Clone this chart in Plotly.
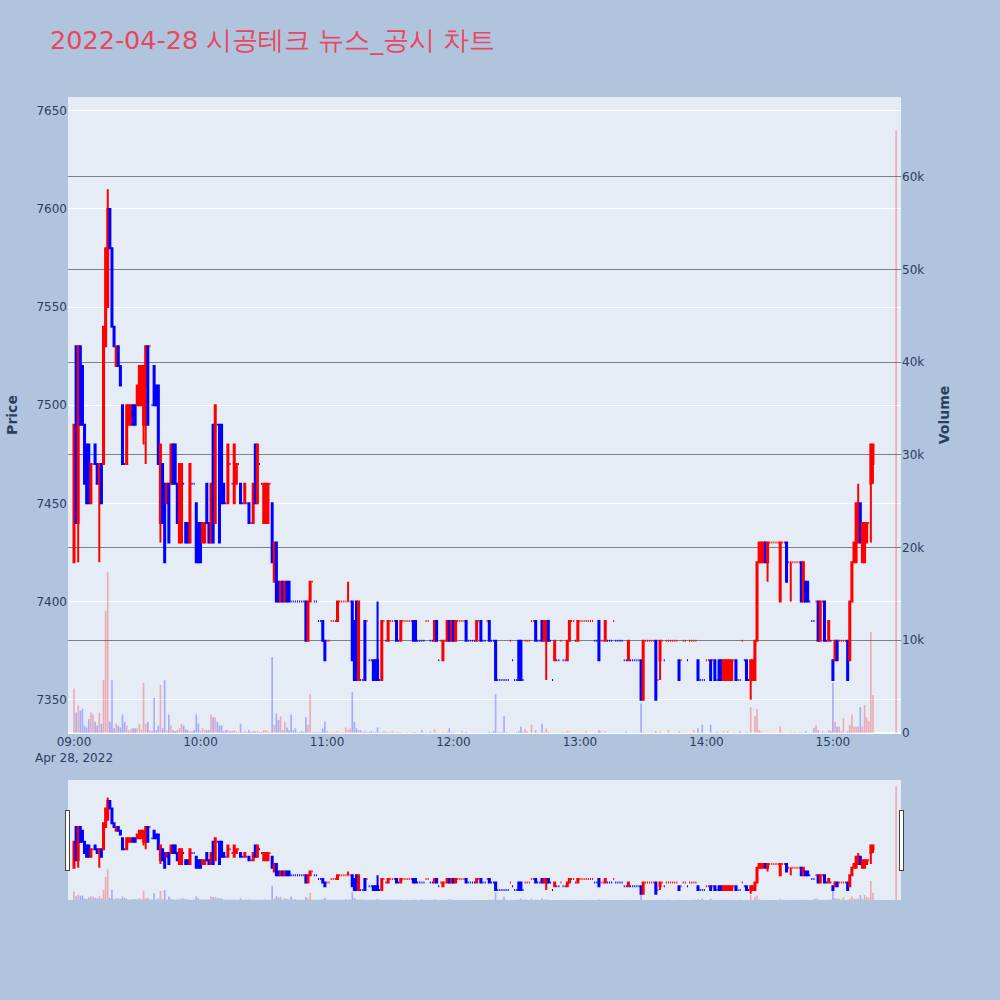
import pandas as pd
import plotly.graph_objects as go
from plotly.subplots import make_subplots

title_text = "2022-04-28 시공테크 뉴스_공시 차트"
session_start = "2022-04-28 09:00"
auction_time = "2022-04-28 15:30"
auction_volume = 65000

opens = [7420,7530,7440,7530,7520,7490,7480,7480,7450,7470,7480,7470,7460,7470,7470,7530,7550,7600,7580,7540,
7520,7530,7520,7500,7470,7470,7490,7490,7500,7500,7500,7500,7500,7490,7510,7530,7530,7500,7520,7510,
7510,7440,7470,7460,7450,7460,7460,7480,7480,7460,7430,7430,7460,7440,7440,7430,7460,7460,7450,7440,
7440,7430,7430,7460,7440,7430,7490,7440,7490,7490,7490,7460,7450,7450,7470,7460,7450,7460,7470,7460,
7450,7450,7450,7450,7440,7440,7480,7450,7470,7460,7440,7440,7440,7460,7450,7410,7430,7410,7400,7410,
7400,7410,7410,7400,7400,7400,7400,7400,7400,7400,7400,7380,7400,7410,7400,7400,7390,7390,7390,7380,
7380,7380,7390,7390,7390,7390,7400,7400,7400,7400,7400,7400,7400,7390,7400,7360,7360,7360,7390,7390,
7370,7370,7370,7370,7370,7360,7360,7390,7380,7380,7390,7390,7390,7390,7380,7380,7390,7390,7390,7390,
7390,7390,7390,7380,7380,7380,7380,7390,7390,7380,7380,7380,7390,7370,7380,7370,7380,7380,7390,7380,
7390,7380,7390,7390,7390,7390,7390,7380,7380,7380,7380,7380,7390,7390,7380,7380,7390,7390,7380,7380,
7380,7360,7360,7360,7360,7360,7360,7380,7370,7360,7360,7380,7380,7360,7380,7380,7380,7390,7390,7390,
7380,7380,7390,7380,7380,7390,7380,7360,7370,7370,7370,7380,7370,7370,7370,7380,7390,7390,7380,7380,
7390,7390,7390,7390,7390,7390,7390,7380,7380,7390,7380,7380,7380,7380,7380,7380,7390,7380,7380,7380,
7380,7370,7370,7370,7370,7370,7370,7370,7370,7370,7350,7380,7380,7380,7380,7380,7380,7360,7370,7380,
7370,7380,7380,7380,7380,7380,7380,7370,7370,7380,7380,7370,7380,7380,7380,7380,7370,7360,7360,7360,
7370,7370,7370,7370,7370,7360,7370,7370,7360,7360,7360,7360,7360,7370,7370,7360,7360,7380,7370,7370,
7360,7360,7360,7360,7380,7420,7420,7420,7430,7420,7430,7430,7430,7430,7430,7400,7430,7430,7430,7420,
7420,7420,7420,7420,7420,7420,7400,7410,7410,7400,7390,7390,7400,7400,7380,7400,7400,7380,7380,7380,
7370,7370,7380,7380,7380,7380,7380,7380,7370,7400,7420,7420,7430,7450,7420,7420,7430,7440,7460,7470]

highs = [7490,7530,7530,7530,7520,7490,7480,7480,7470,7470,7480,7470,7470,7470,7540,7580,7610,7600,7580,7540,
7530,7530,7520,7500,7470,7500,7500,7500,7500,7500,7510,7520,7520,7520,7530,7530,7530,7500,7520,7510,
7510,7480,7470,7460,7460,7460,7480,7480,7480,7460,7470,7470,7460,7440,7440,7470,7460,7460,7450,7440,
7440,7440,7440,7460,7440,7460,7490,7500,7490,7490,7490,7460,7450,7480,7470,7460,7480,7470,7470,7460,
7450,7460,7450,7450,7440,7460,7480,7480,7470,7460,7460,7460,7460,7460,7450,7430,7430,7410,7410,7410,
7410,7410,7410,7400,7400,7400,7400,7400,7400,7400,7400,7400,7410,7410,7400,7400,7390,7390,7390,7380,
7380,7380,7390,7390,7390,7400,7400,7400,7400,7400,7410,7400,7400,7390,7400,7400,7360,7360,7390,7390,
7370,7370,7370,7370,7400,7360,7390,7390,7380,7390,7390,7390,7390,7390,7380,7390,7390,7390,7390,7390,
7390,7390,7390,7380,7380,7380,7380,7390,7390,7380,7380,7390,7390,7370,7380,7380,7380,7390,7390,7390,
7390,7390,7390,7390,7390,7390,7390,7380,7380,7380,7380,7390,7390,7390,7380,7380,7390,7390,7380,7380,
7380,7360,7360,7360,7360,7360,7360,7380,7370,7360,7360,7380,7380,7360,7380,7380,7380,7390,7390,7390,
7380,7380,7390,7390,7390,7390,7380,7360,7380,7370,7370,7380,7370,7370,7380,7390,7390,7390,7380,7390,
7390,7390,7390,7390,7390,7390,7390,7380,7380,7390,7380,7380,7390,7380,7380,7380,7390,7380,7380,7380,
7380,7370,7370,7380,7370,7370,7370,7370,7370,7370,7380,7380,7380,7380,7380,7380,7380,7360,7380,7380,
7370,7380,7380,7380,7380,7380,7380,7370,7370,7380,7380,7370,7380,7380,7380,7380,7370,7360,7360,7360,
7370,7370,7370,7370,7370,7360,7370,7370,7370,7370,7370,7370,7370,7370,7370,7360,7360,7380,7370,7370,
7360,7370,7370,7380,7420,7430,7430,7430,7430,7430,7430,7430,7430,7430,7430,7430,7430,7430,7430,7420,
7420,7420,7420,7420,7420,7420,7420,7410,7410,7400,7390,7390,7400,7400,7400,7400,7400,7380,7390,7380,
7370,7380,7380,7380,7380,7380,7380,7380,7400,7420,7430,7450,7460,7450,7440,7440,7440,7440,7480,7480]

lows = [7420,7440,7420,7490,7490,7460,7450,7450,7450,7470,7470,7460,7420,7450,7470,7530,7550,7580,7540,7530,
7520,7520,7510,7470,7470,7470,7490,7490,7490,7490,7500,7500,7500,7480,7470,7490,7530,7500,7500,7500,
7470,7430,7440,7420,7450,7430,7460,7460,7460,7440,7430,7430,7460,7430,7430,7430,7460,7460,7420,7420,
7420,7430,7430,7440,7430,7430,7430,7440,7490,7430,7450,7450,7450,7450,7470,7460,7450,7460,7470,7450,
7450,7450,7450,7440,7440,7440,7450,7450,7470,7460,7440,7440,7440,7460,7420,7410,7400,7400,7400,7400,
7400,7400,7400,7400,7400,7400,7400,7400,7400,7400,7380,7380,7400,7410,7400,7400,7390,7390,7380,7370,
7380,7380,7390,7390,7390,7390,7400,7400,7400,7400,7400,7400,7370,7360,7360,7360,7360,7360,7360,7390,
7370,7370,7360,7360,7360,7360,7360,7390,7380,7380,7390,7390,7390,7380,7380,7380,7390,7390,7390,7390,
7390,7380,7380,7380,7380,7380,7380,7390,7390,7380,7380,7380,7380,7370,7380,7370,7380,7380,7380,7380,
7380,7380,7390,7390,7390,7390,7380,7380,7380,7380,7380,7380,7390,7380,7380,7380,7390,7380,7380,7380,
7360,7360,7360,7360,7360,7360,7360,7380,7370,7360,7360,7360,7360,7360,7380,7380,7380,7390,7390,7380,
7380,7380,7380,7380,7360,7380,7380,7360,7370,7370,7370,7380,7370,7370,7370,7380,7390,7390,7380,7380,
7390,7390,7390,7390,7390,7390,7390,7380,7380,7370,7380,7380,7380,7380,7380,7380,7390,7380,7380,7380,
7380,7370,7370,7370,7370,7370,7370,7370,7370,7350,7350,7380,7380,7380,7380,7380,7350,7360,7360,7380,
7370,7380,7380,7380,7380,7380,7380,7360,7370,7380,7380,7370,7380,7380,7380,7380,7360,7360,7360,7360,
7370,7370,7360,7370,7360,7360,7360,7360,7360,7360,7360,7360,7360,7370,7360,7360,7360,7380,7370,7360,
7360,7350,7360,7360,7380,7420,7420,7420,7420,7410,7430,7430,7430,7430,7430,7400,7430,7430,7410,7420,
7400,7420,7420,7420,7420,7400,7400,7400,7400,7400,7390,7390,7400,7380,7380,7400,7380,7380,7380,7380,
7360,7370,7370,7380,7380,7380,7380,7360,7370,7400,7420,7420,7430,7430,7420,7420,7430,7440,7430,7460]

closes = [7490,7440,7530,7490,7490,7460,7450,7450,7470,7470,7470,7460,7470,7450,7540,7580,7600,7580,7540,7530,
7530,7520,7510,7470,7470,7500,7500,7500,7490,7490,7510,7520,7520,7520,7530,7490,7530,7500,7500,7500,
7470,7480,7440,7420,7460,7430,7480,7460,7460,7440,7470,7470,7460,7430,7430,7470,7460,7460,7420,7420,
7420,7440,7440,7440,7430,7460,7430,7500,7490,7430,7450,7450,7450,7480,7470,7460,7480,7470,7470,7450,
7450,7460,7450,7440,7440,7460,7450,7480,7470,7460,7460,7460,7460,7460,7420,7430,7400,7400,7410,7400,
7410,7400,7400,7400,7400,7400,7400,7400,7400,7400,7380,7400,7410,7410,7400,7400,7390,7390,7380,7370,
7380,7380,7390,7390,7390,7400,7400,7400,7400,7400,7400,7400,7370,7360,7360,7400,7360,7360,7360,7390,
7370,7370,7360,7360,7360,7360,7390,7390,7380,7390,7390,7390,7390,7380,7380,7390,7390,7390,7390,7390,
7390,7380,7380,7380,7380,7380,7380,7390,7390,7380,7380,7390,7380,7370,7380,7380,7380,7390,7380,7390,
7380,7390,7390,7390,7390,7390,7380,7380,7380,7380,7380,7390,7390,7380,7380,7380,7390,7380,7380,7380,
7360,7360,7360,7360,7360,7360,7360,7380,7370,7360,7360,7360,7360,7360,7380,7380,7380,7390,7390,7380,
7380,7380,7380,7390,7390,7380,7380,7360,7380,7370,7370,7380,7370,7370,7380,7390,7390,7390,7380,7390,
7390,7390,7390,7390,7390,7390,7390,7380,7380,7370,7380,7380,7390,7380,7380,7380,7390,7380,7380,7380,
7380,7370,7370,7380,7370,7370,7370,7370,7370,7350,7380,7380,7380,7380,7380,7380,7350,7360,7380,7380,
7370,7380,7380,7380,7380,7380,7380,7360,7370,7380,7380,7370,7380,7380,7380,7380,7360,7360,7360,7360,
7370,7370,7360,7370,7360,7360,7360,7360,7370,7370,7370,7370,7370,7370,7360,7360,7360,7380,7370,7360,
7360,7370,7370,7380,7420,7430,7430,7430,7420,7430,7430,7430,7430,7430,7430,7430,7430,7430,7410,7420,
7420,7420,7420,7420,7420,7400,7420,7400,7400,7400,7390,7390,7400,7380,7400,7400,7380,7380,7390,7380,
7360,7380,7370,7380,7380,7380,7380,7360,7400,7420,7430,7450,7450,7430,7440,7440,7440,7440,7480,7480]

volumes = [4800,2200,3000,2400,2600,800,600,1500,2200,2000,1200,800,2200,1000,5700,13200,17400,1200,5700,500,
1000,800,600,2000,1200,800,300,400,500,500,500,1000,400,5400,1000,1200,300,200,3800,300,
800,5200,500,5700,300,2000,800,300,200,300,500,1000,800,400,300,200,200,300,2000,1000,
200,500,300,300,300,2000,1700,1700,1200,800,800,200,300,300,200,200,300,200,100,1000,
100,200,100,300,100,200,200,200,100,100,300,300,200,100,8200,900,2100,1400,1800,300,
1200,600,300,2000,300,500,100,100,200,100,1700,900,4200,100,100,100,100,100,500,1200,
200,100,100,100,100,200,100,100,100,600,300,500,4400,1200,500,300,300,100,200,100,
100,200,100,100,600,100,100,200,100,100,100,200,100,100,100,100,50,50,100,50,
50,100,100,50,50,300,50,100,50,150,50,400,100,50,50,100,50,100,500,100,
100,50,50,50,200,50,100,50,50,50,50,50,50,50,50,50,50,150,50,200,
4200,100,100,100,1800,100,50,50,50,50,100,200,700,100,400,200,50,900,50,300,
50,50,1000,100,500,100,50,50,50,50,50,50,100,50,200,200,50,50,50,50,
50,50,50,200,50,50,50,50,50,300,200,50,200,50,50,50,50,50,50,50,
50,50,150,50,50,50,50,50,50,3200,100,50,50,50,50,50,200,50,150,50,
50,50,300,50,50,50,50,150,50,50,50,50,50,50,300,50,500,50,900,50,
50,50,900,50,50,100,50,50,200,50,200,50,50,100,50,50,200,50,50,100,
50,2800,50,1800,2600,300,200,50,50,50,50,50,50,50,50,700,100,50,50,50,
100,50,100,50,100,100,50,200,50,50,50,500,900,300,50,200,50,50,300,200,
5400,1200,700,700,200,1600,50,200,900,2000,700,700,700,2800,700,3000,1700,1300,10900,4100]

times = pd.date_range(session_start, periods=len(opens), freq="min")

# candle direction (close vs open, ties resolved with previous close)
dirs = []
prev_c, prev_d = None, 1
for o, c in zip(opens, closes):
    if c > o:
        d = 1
    elif c < o:
        d = -1
    elif prev_c is not None and c != prev_c:
        d = 1 if c > prev_c else -1
    else:
        d = prev_d
    dirs.append(d)
    prev_c, prev_d = c, d

vol_x = list(times) + [pd.Timestamp(auction_time)]
vol_y = volumes + [auction_volume]
vol_colors = ["rgba(255,0,0,0.27)" if d > 0 else "rgba(0,0,255,0.27)" for d in dirs] + ["rgba(255,0,0,0.27)"]

fig = make_subplots(specs=[[{"secondary_y": True}]])

fig.add_trace(go.Candlestick(
    x=times, open=opens, high=highs, low=lows, close=closes,
    increasing=dict(line=dict(color="red"), fillcolor="red"),
    decreasing=dict(line=dict(color="blue"), fillcolor="blue"),
    name="Price", showlegend=False,
), secondary_y=False)

fig.add_trace(go.Bar(
    x=vol_x, y=vol_y, marker=dict(color=vol_colors, line=dict(width=0)),
    name="Volume", showlegend=False,
), secondary_y=True)

x_range = ["2022-04-28 08:57:09", "2022-04-28 15:32:18"]

fig.update_layout(
    width=1000, height=1000,
    autosize=False,
    font=dict(family="DejaVu Sans, Verdana, sans-serif"),
    paper_bgcolor="#B0C4DE",
    plot_bgcolor="#E5ECF6",
    margin=dict(l=68, r=99, t=97, b=100),
    title=dict(text=title_text, x=0.05, y=0.96, yanchor="middle",
               font=dict(size=25.5, color="#E8475F")),
    showlegend=False,
    bargap=0.2,
)
fig.update_xaxes(range=x_range, showgrid=False, domain=[0, 1],
                 rangeslider=dict(visible=True, range=x_range))
fig.update_yaxes(title_text="<b>Price</b>", range=[7333, 7657], gridcolor="white",
                 secondary_y=False)
fig.update_yaxes(title_text="<b>Volume</b>", range=[0, 68600], showgrid=True,
                 gridcolor="gray", secondary_y=True)

fig.write_html("out.html",
               config={"displayModeBar": False},
               post_script="document.body.style.margin='0';document.body.style.overflow='hidden';")
